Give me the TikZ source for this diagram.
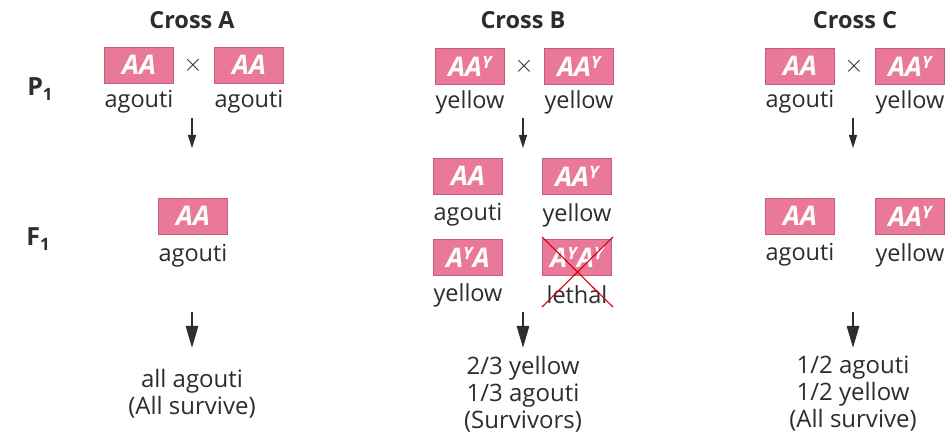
\documentclass[tikz,border=0pt]{standalone}
\usepackage{fontspec}
\setmainfont{Open Sans}
\usetikzlibrary{arrows.meta}
\definecolor{boxpink}{RGB}{233,120,153}
\definecolor{boxedge}{RGB}{196,92,124}
\definecolor{txt}{RGB}{45,45,45}
\newcommand{\supY}{\raisebox{0.55ex}{\fontsize{17}{17}\selectfont Y}}
\begin{document}
\begin{tikzpicture}[x=1pt,y=-1pt,
  geno/.style={draw=boxedge, line width=0.8pt, fill=boxpink, minimum width=69pt, minimum height=36pt, inner sep=0pt, text=white, font=\fontsize{27}{27}\selectfont\bfseries\itshape},
  lbl/.style={text=txt, font=\fontsize{23.5}{26}\selectfont, inner sep=0pt},
  res/.style={text=txt, font=\fontsize{24}{27}\selectfont, inner sep=0pt, align=center},
  ttl/.style={text=txt, font=\fontsize{23.5}{26}\selectfont\bfseries, inner sep=0pt},
  gen/.style={text=txt, font=\fontsize{25}{26}\selectfont\bfseries, inner sep=0pt},
  times/.style={text=txt, font=\fontsize{35}{35}\selectfont, inner sep=0pt},
  smallarrow/.style={-{Triangle[length=13pt,width=8pt]}, line width=1.2pt, draw=txt},
  bigarrow/.style={-{Triangle[length=22pt,width=12pt]}, line width=2.6pt, draw=txt},
  killx/.style={draw=red!85!black, line width=1.1pt}]
\fill[white] (0,0) rectangle (948,435);
\useasboundingbox (0,0) rectangle (948,435);

% titles and generation labels
\node[ttl] (tA) at (192,20) {Cross A};
\node[ttl] (tB) at (523,20) {Cross B};
\node[ttl] (tC) at (855,20) {Cross C};
\node[gen] (P1) at (40,89) {P\raisebox{-0.4ex}{\fontsize{17}{17}\selectfont 1}};
\node[gen] (F1) at (38,239) {F\raisebox{-0.4ex}{\fontsize{17}{17}\selectfont 1}};

% ---------- Cross A ----------
\node[geno] (a1) at (139,65) {AA};
\node[times] (ax) at (193,65) {$\times$};
\node[geno] (a2) at (249,65) {AA};
\node[lbl] (la1) at (139,102) {agouti};
\node[lbl] (la2) at (249,102) {agouti};
\coordinate (aS) at (192,118);
\coordinate (aE) at (192,148);
\draw[smallarrow] (aS) -- (aE);
\node[geno] (fa) at (193,216) {AA};
\node[lbl] (lfa) at (193,256) {agouti};
\coordinate (aS2) at (192,312);
\coordinate (aE2) at (192,348);
\draw[bigarrow] (aS2) -- (aE2);
\node[res] (ra) at (192,394) {all agouti\\(All survive)};

% ---------- Cross B ----------
\node[geno] (b1) at (470,66) {AA\supY};
\node[times] (bx) at (524,66) {$\times$};
\node[geno] (b2) at (579,66) {AA\supY};
\node[lbl] (lb1) at (470,102) {yellow};
\node[lbl] (lb2) at (579,102) {yellow};
\coordinate (bS) at (523,118);
\coordinate (bE) at (523,148);
\draw[smallarrow] (bS) -- (bE);
\node[geno] (fb1) at (468,176) {AA};
\node[geno] (fb2) at (577,176) {AA\supY};
\node[lbl] (lfb1) at (468,215) {agouti};
\node[lbl] (lfb2) at (577,215) {yellow};
\node[geno] (fb3) at (468,257) {A\supY A};
\node[geno] (fb4) at (577,257) {A\supY A\supY};
\node[lbl] (lfb3) at (468,295) {yellow};
\node[lbl] (lfb4) at (577,295) {lethal};
\coordinate (xa) at (542,237);
\coordinate (xb) at (613,307);
\coordinate (xc) at (613,237);
\coordinate (xd) at (542,307);
\draw[killx] (xa) -- (xb);
\draw[killx] (xc) -- (xd);
\coordinate (bS2) at (523,312);
\coordinate (bE2) at (523,348);
\draw[bigarrow] (bS2) -- (bE2);
\node[res] (rb) at (523,394) {2/3 yellow\\1/3 agouti\\(Survivors)};

% ---------- Cross C ----------
\node[geno] (c1) at (800,66) {AA};
\node[times] (cx) at (854,66) {$\times$};
\node[geno] (c2) at (910,66) {AA\supY};
\node[lbl] (lc1) at (800,102) {agouti};
\node[lbl] (lc2) at (910,102) {yellow};
\coordinate (cS) at (853,118);
\coordinate (cE) at (853,148);
\draw[smallarrow] (cS) -- (cE);
\node[geno] (fc1) at (800,216) {AA};
\node[geno] (fc2) at (910,216) {AA\supY};
\node[lbl] (lfc1) at (800,255) {agouti};
\node[lbl] (lfc2) at (910,255) {yellow};
\coordinate (cS2) at (853,312);
\coordinate (cE2) at (853,348);
\draw[bigarrow] (cS2) -- (cE2);
\node[res] (rc) at (853,394) {1/2 agouti\\1/2 yellow\\(All survive)};
\end{tikzpicture}
\end{document}
